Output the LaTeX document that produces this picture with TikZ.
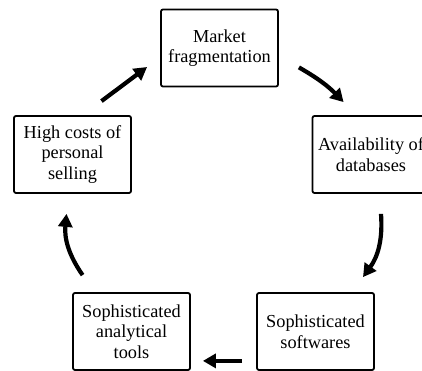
\documentclass[tikz,border=0pt]{standalone}
\usepackage{fontspec}
\setmainfont{Liberation Serif}
\usetikzlibrary{positioning,arrows.meta}

\begin{document}
\begin{tikzpicture}[x=1pt,y=1pt,
    factor/.style={draw, line width=1.8pt, rounded corners=2pt, fill=white,
      minimum width=117pt, minimum height=77pt, inner sep=1pt,
      align=center, font=\fontsize{18.3}{20.5}\selectfont},
    flow/.style={line width=4.2pt, -{Triangle[length=13pt,width=14pt]}}]
      % Fix the page size
      \useasboundingbox (0,0) rectangle (422,371);
      % Draw the five boxes
      \node[factor] (mkt) at (219.5,323) {Market\\fragmentation};
      \node[factor] (avail) at (371,216.5) {Availability of\\databases};
      \node[factor] (soft) at (315.5,39.5) {Sophisticated\\softwares};
      \node[factor] (tools) at (131.5,39.5) {Sophisticated\\analytical\\tools};
      \node[factor] (high) at (72.5,216.5) {High costs of\\personal\\selling};
      % Draw the arrows round the cycle
      \draw[flow] ([shift={(20,20)}]mkt.south east) to[bend left=8] ([shift={(32,13)}]avail.north west);
      \draw[flow] ([shift={(10,-20)}]avail.south) to[bend left=20] ([shift={(47.5,15)}]soft.north);
      \draw[flow] ([shift={(-14,10)}]soft.south west) -- ([shift={(12,10)}]tools.south east);
      \draw[flow] ([shift={(10.5,17)}]tools.north west) to[bend left=20] ([shift={(-6,-20)}]high.south);
      \draw[flow] ([shift={(29,14)}]high.north) -- ([shift={(-13,-19)}]mkt.west);
\end{tikzpicture}
\end{document}
